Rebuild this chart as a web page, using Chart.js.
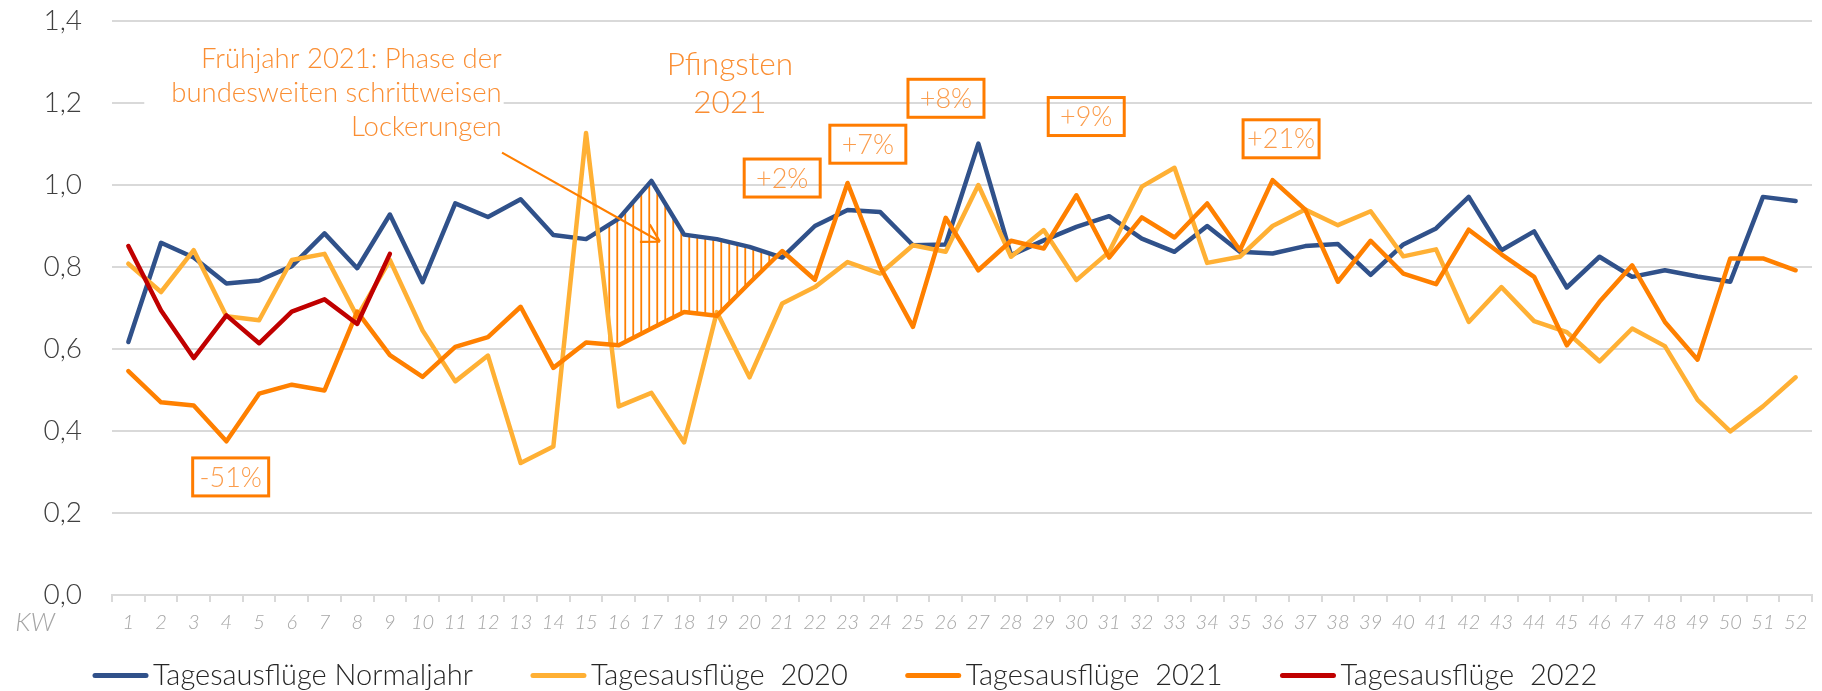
<!DOCTYPE html>
<html>
<head>
<meta charset="utf-8">
<script src="https://cdn.jsdelivr.net/npm/chart.js@4.4.0/dist/chart.umd.min.js"></script>
<style>
  html, body { margin: 0; padding: 0; background: #fff; }
  #wrap { width: 1822px; height: 691px; }
</style>
</head>
<body>
<div id="wrap"><canvas id="chart" width="1822" height="691"></canvas></div>
<script>
// Kalenderwochen
const weeks = Array.from({ length: 52 }, (_, i) => String(i + 1));

// Tagesausflüge je KW
const normaljahr = [0.617, 0.859, 0.823, 0.760, 0.767, 0.802, 0.882, 0.797, 0.928, 0.763,
  0.955, 0.922, 0.965, 0.878, 0.868, 0.918, 1.010, 0.879, 0.868, 0.849,
  0.823, 0.900, 0.939, 0.934, 0.853, 0.855, 1.101, 0.829, 0.865, 0.898,
  0.924, 0.869, 0.837, 0.900, 0.837, 0.833, 0.851, 0.856, 0.781, 0.855,
  0.894, 0.971, 0.841, 0.887, 0.750, 0.825, 0.776, 0.792, 0.777, 0.764,
  0.971, 0.961];
const year2020 = [0.808, 0.739, 0.841, 0.680, 0.670, 0.817, 0.832, 0.679, 0.817, 0.645,
  0.521, 0.584, 0.322, 0.362, 1.127, 0.460, 0.493, 0.372, 0.690, 0.531,
  0.711, 0.751, 0.812, 0.784, 0.853, 0.837, 1.000, 0.825, 0.890, 0.768,
  0.837, 0.996, 1.042, 0.810, 0.825, 0.900, 0.940, 0.902, 0.936, 0.826,
  0.843, 0.666, 0.751, 0.668, 0.641, 0.570, 0.650, 0.607, 0.476, 0.399,
  0.460, 0.531];
const year2021 = [0.546, 0.470, 0.462, 0.375, 0.491, 0.513, 0.499, 0.691, 0.585, 0.532,
  0.605, 0.629, 0.703, 0.554, 0.616, 0.609, 0.650, 0.690, 0.681, 0.761,
  0.839, 0.769, 1.005, 0.800, 0.654, 0.920, 0.792, 0.864, 0.845, 0.975,
  0.823, 0.921, 0.872, 0.955, 0.841, 1.012, 0.940, 0.764, 0.864, 0.784,
  0.758, 0.891, 0.831, 0.776, 0.609, 0.715, 0.804, 0.666, 0.574, 0.821,
  0.821, 0.792];
const year2022 = [0.851, 0.694, 0.578, 0.682, 0.614, 0.691, 0.721, 0.661, 0.832];

const seriesLabels = ['Tagesausflüge Normaljahr', 'Tagesausflüge  2020', 'Tagesausflüge  2021', 'Tagesausflüge  2022'];
const seriesColors = ['#30518A', '#FFB034', '#FF8000', '#C00000'];

// Anmerkungen (x = Index der KW, y = Wert)
const changeBoxes = [
  { text: '-51%', x: 3.13, y: 0.288 },
  { text: '+2%', x: 20.0, y: 1.017 },
  { text: '+7%', x: 22.62, y: 1.0995 },
  { text: '+8%', x: 25.01, y: 1.2115 },
  { text: '+9%', x: 29.30, y: 1.167 },
  { text: '+21%', x: 35.26, y: 1.1127 }
];
const springNote = { lines: ['Frühjahr 2021: Phase der', 'bundesweiten schrittweisen', 'Lockerungen'], x: 11.42, y: 1.285 };
const pentecostNote = { lines: ['Pfingsten', '2021'], x: 18.40, y: 1.268 };
const arrowNote = { from: { x: 11.43, y: 1.079 }, to: { x: 16.26, y: 0.862 } };
const hatchRange = { from: 14.71, to: 19.61 };

const FONT = '"Lato Light", Lato, "Open Sans", sans-serif';
const NOTE_ORANGE = '#FA8E33';
const BOX_BORDER = '#FF7C00';
const BOX_TEXT = '#FB9C4B';

function interp(arr, f) {
  const i = Math.floor(f);
  const t = f - i;
  if (i + 1 >= arr.length) return arr[arr.length - 1];
  return arr[i] + (arr[i + 1] - arr[i]) * t;
}

const notesPlugin = {
  id: 'notes',
  beforeDatasetsDraw(chart) {
    const { ctx, scales: { x, y } } = chart;
    // Schraffur zwischen Normaljahr und 2021
    const x0 = x.getPixelForValue(hatchRange.from);
    const x1 = x.getPixelForValue(hatchRange.to);
    ctx.save();
    ctx.strokeStyle = '#FF7F00';
    ctx.lineWidth = 1.8;
    for (let px = x0; px <= x1 + 0.5; px += 8) {
      const f = hatchRange.from + (px - x0) / (x1 - x0) * (hatchRange.to - hatchRange.from);
      const yTop = y.getPixelForValue(interp(normaljahr, f));
      const yBot = y.getPixelForValue(interp(year2021, f));
      ctx.beginPath();
      ctx.moveTo(px, yTop);
      ctx.lineTo(px, yBot);
      ctx.stroke();
    }
    ctx.restore();
  },
  afterDatasetsDraw(chart) {
    const { ctx, chartArea, scales: { x, y } } = chart;
    ctx.save();

    // Textfeld Frühjahr 2021 (weißer Hintergrund)
    ctx.font = '300 27.5px ' + FONT;
    const rx = x.getPixelForValue(springNote.x);
    const by = y.getPixelForValue(springNote.y);
    const maxW = Math.max(...springNote.lines.map(l => ctx.measureText(l).width));
    ctx.fillStyle = '#fff';
    ctx.fillRect(rx - maxW - 27, by - 26, maxW + 29, 34 * 2 + 38);
    ctx.fillStyle = NOTE_ORANGE;
    ctx.textAlign = 'right';
    ctx.textBaseline = 'alphabetic';
    springNote.lines.forEach((l, i) => ctx.fillText(l, rx, by + i * 33.7));

    // Pfingsten 2021
    ctx.font = '300 31.5px ' + FONT;
    ctx.textAlign = 'center';
    const px = x.getPixelForValue(pentecostNote.x);
    const py = y.getPixelForValue(pentecostNote.y);
    pentecostNote.lines.forEach((l, i) => ctx.fillText(l, px, py + i * 37.7));

    // Pfeil
    const ax0 = x.getPixelForValue(arrowNote.from.x), ay0 = y.getPixelForValue(arrowNote.from.y);
    const ax1 = x.getPixelForValue(arrowNote.to.x), ay1 = y.getPixelForValue(arrowNote.to.y);
    const ang = Math.atan2(ay1 - ay0, ax1 - ax0);
    ctx.strokeStyle = '#FF7F00';
    ctx.lineWidth = 2.2;
    ctx.beginPath();
    ctx.moveTo(ax0, ay0);
    ctx.lineTo(ax1, ay1);
    [Math.PI / 6, -Math.PI / 6].forEach(d => {
      ctx.moveTo(ax1, ay1);
      ctx.lineTo(ax1 - 20 * Math.cos(ang + d), ay1 - 20 * Math.sin(ang + d));
    });
    ctx.stroke();

    // Prozent-Kästen
    ctx.font = '300 27px ' + FONT;
    ctx.textAlign = 'center';
    ctx.textBaseline = 'middle';
    changeBoxes.forEach(b => {
      const cx = x.getPixelForValue(b.x);
      const cy = y.getPixelForValue(b.y);
      ctx.strokeStyle = BOX_BORDER;
      ctx.lineWidth = 3;
      ctx.strokeRect(cx - 38, cy - 19, 76, 38);
      ctx.fillStyle = BOX_TEXT;
      ctx.fillText(b.text, cx, cy + 1);
    });

    // "KW" an der x-Achse
    ctx.font = 'italic 300 26px ' + FONT;
    ctx.fillStyle = '#A6A6A6';
    ctx.textAlign = 'right';
    ctx.fillText('KW', chartArea.left - 57, x.top + 28);

    // Legende
    ctx.font = '300 29px ' + FONT;
    ctx.textAlign = 'left';
    ctx.textBaseline = 'middle';
    let lx = 93;
    const ly = chartArea.bottom + 80.5;
    chart.data.datasets.forEach(ds => {
      ctx.strokeStyle = ds.borderColor;
      ctx.lineWidth = 5;
      ctx.lineCap = 'round';
      ctx.beginPath();
      ctx.moveTo(lx + 2, ly);
      ctx.lineTo(lx + 53, ly);
      ctx.stroke();
      ctx.fillStyle = '#262626';
      ctx.fillText(ds.label, lx + 60, ly);
      lx += 60 + ctx.measureText(ds.label).width + 58;
    });
    ctx.restore();
  }
};

const seriesData = [normaljahr, year2020, year2021, year2022];
const datasets = seriesData.map((d, i) => ({
  label: seriesLabels[i],
  data: d,
  borderColor: seriesColors[i],
  backgroundColor: seriesColors[i],
  borderWidth: 4.5,
  pointRadius: 0,
  tension: 0,
  fill: false,
  borderJoinStyle: 'round',
  borderCapStyle: 'round',
  order: 4 - i
}));

new Chart(document.getElementById('chart'), {
  type: 'line',
  data: { labels: weeks, datasets },
  options: {
    responsive: false,
    devicePixelRatio: 1,
    animation: false,
    layout: { padding: { top: 21, right: 10, left: 0, bottom: 0 } },
    plugins: {
      legend: { display: false },
      tooltip: { enabled: false }
    },
    scales: {
      x: {
        type: 'category',
        offset: true,
        afterFit(scale) { scale.height = 96; scale.paddingLeft = 0; scale.paddingRight = 0; },
        grid: {
          offset: true,
          drawOnChartArea: false,
          drawTicks: true,
          tickLength: 7,
          color: '#D9D9D9',
          lineWidth: 2
        },
        border: { display: true, color: '#D9D9D9', width: 2 },
        ticks: {
          autoSkip: false,
          maxRotation: 0,
          padding: 9,
          color: '#A6A6A6',
          font: { family: FONT, size: 20, style: 'italic', weight: 300 }
        }
      },
      y: {
        min: 0,
        max: 1.4,
        afterFit(scale) { scale.width = 112; scale.paddingTop = 0; scale.paddingBottom = 0; },
        grid: { color: '#D9D9D9', lineWidth: 2, drawTicks: false },
        border: { display: false },
        ticks: {
          stepSize: 0.2,
          padding: 30,
          color: '#404040',
          font: { family: FONT, size: 28, weight: 300 },
          callback: v => v.toFixed(1).replace('.', ',')
        }
      }
    }
  },
  plugins: [notesPlugin]
});
</script>
</body>
</html>
